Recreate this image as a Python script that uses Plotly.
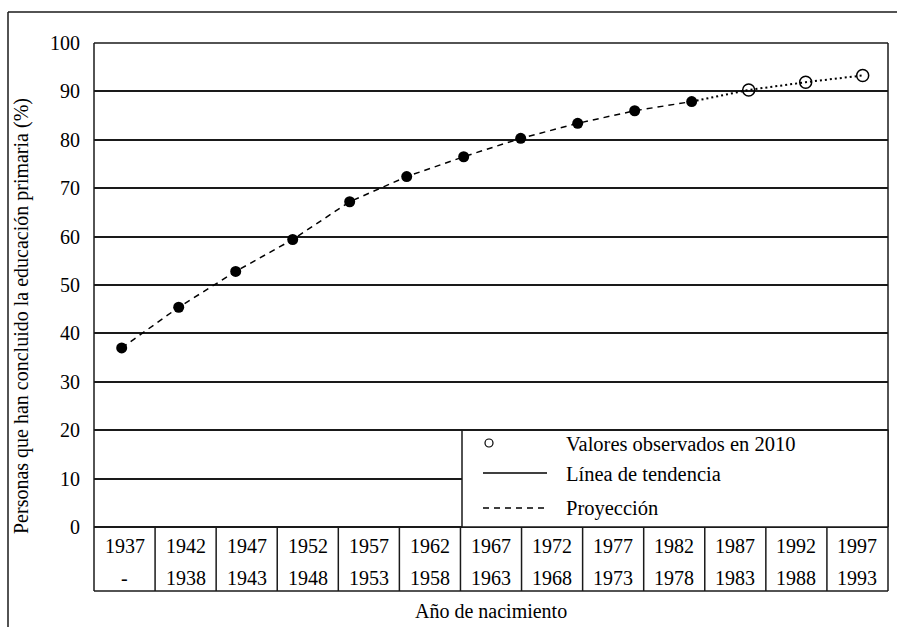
import plotly.graph_objects as go

# ---- data ----
cohort_start = ["1937", "1942", "1947", "1952", "1957", "1962", "1967",
                "1972", "1977", "1982", "1987", "1992", "1997"]
cohort_end = ["-", "1938", "1943", "1948", "1953", "1958", "1963",
              "1968", "1973", "1978", "1983", "1988", "1993"]
trend_values = [37.0, 45.4, 52.8, 59.4, 67.2, 72.4, 76.5, 80.3, 83.4, 86.0, 87.9]
projection_values = [87.9, 90.3, 91.9, 93.3]
observed_values = [90.3, 91.9, 93.3]
y_ticks = [0, 10, 20, 30, 40, 50, 60, 70, 80, 90, 100]

legend_labels = ["Valores observados en 2010", "Línea de tendencia", "Proyección"]
y_title = "Personas que han concluido la educación primaria (%)"
x_title = "Año de nacimiento"

# ---- layout geometry (pixels) ----
W, H = 897, 627
L, R, T, B = 94, 888, 43, 527
TABLE_BOTTOM = 591
FONT = "Liberation Serif"
INK = "#1a1a1a"


def px_x(p):
    return (p - L) / (R - L)


def px_y(p):
    return (B - p) / (B - T)


n_trend = len(trend_values)
x_trend = list(range(n_trend))
x_proj = list(range(n_trend - 1, n_trend - 1 + len(projection_values)))
x_obs = x_proj[1:]

fig = go.Figure()
fig.add_trace(go.Scatter(
    x=x_trend, y=trend_values, mode="lines+markers",
    line=dict(color="black", width=1.5, dash="6px,5px"),
    marker=dict(color="black", size=11, symbol="circle"),
    showlegend=False, hoverinfo="skip"))
fig.add_trace(go.Scatter(
    x=x_proj, y=projection_values, mode="lines",
    line=dict(color="black", width=2, dash="2px,3px"),
    showlegend=False, hoverinfo="skip"))
fig.add_trace(go.Scatter(
    x=x_obs, y=observed_values, mode="markers",
    marker=dict(color="black", size=12, symbol="circle-open", line=dict(width=1.5)),
    showlegend=False, hoverinfo="skip"))

fig.add_trace(go.Scatter(x=[0, len(cohort_start)], y=[None, None], xaxis="x2",
                         showlegend=False, hoverinfo="skip"))

shapes = []
line_style = dict(color=INK, width=1.5)

shapes.append(dict(type="line", xref="paper", yref="paper",
                   x0=px_x(8), x1=px_x(W), y0=px_y(12), y1=px_y(12), line=line_style))
shapes.append(dict(type="line", xref="paper", yref="paper",
                   x0=px_x(8), x1=px_x(8), y0=px_y(12), y1=px_y(H), line=line_style))

shapes.append(dict(type="line", xref="paper", yref="paper",
                   x0=0, x1=1, y0=1, y1=1, line=line_style))
shapes.append(dict(type="line", xref="paper", yref="paper",
                   x0=0, x1=0, y0=1, y1=px_y(TABLE_BOTTOM), line=line_style))
shapes.append(dict(type="line", xref="paper", yref="paper",
                   x0=1, x1=1, y0=1, y1=px_y(TABLE_BOTTOM), line=line_style))
shapes.append(dict(type="line", xref="paper", yref="paper",
                   x0=0, x1=1, y0=px_y(TABLE_BOTTOM), y1=px_y(TABLE_BOTTOM), line=line_style))

for k in range(1, len(cohort_start)):
    shapes.append(dict(type="line", xref="x2", yref="paper",
                       x0=k, x1=k, y0=0, y1=px_y(TABLE_BOTTOM), line=line_style))

shapes.append(dict(type="rect", xref="paper", yref="y", layer="above",
                   x0=px_x(462), x1=1, y0=0, y1=20,
                   fillcolor="white", line=line_style))
shapes.append(dict(type="circle", xref="paper", yref="paper", layer="above",
                   x0=px_x(485), x1=px_x(493), y0=px_y(439), y1=px_y(447),
                   line=dict(color="black", width=1.2)))
shapes.append(dict(type="line", xref="paper", yref="paper", layer="above",
                   x0=px_x(483), x1=px_x(547), y0=px_y(473), y1=px_y(473),
                   line=dict(color="black", width=1.3)))
shapes.append(dict(type="line", xref="paper", yref="paper", layer="above",
                   x0=px_x(483), x1=px_x(547), y0=px_y(508), y1=px_y(508),
                   line=dict(color="black", width=1.3, dash="6px,5px")))

annotations = []
for k, (a, b) in enumerate(zip(cohort_start, cohort_end)):
    annotations.append(dict(x=k + 0.5, y=px_y(546), xref="x2", yref="paper",
                            text=a, showarrow=False, xanchor="center", yanchor="middle",
                            font=dict(family=FONT, size=20, color="black")))
    annotations.append(dict(x=k + 0.5, y=px_y(578), xref="x2", yref="paper",
                            text=b, showarrow=False, xanchor="center", yanchor="middle",
                            font=dict(family=FONT, size=20, color="black")))

for lbl, yy in zip(legend_labels, [444, 474, 508]):
    annotations.append(dict(x=px_x(564), y=px_y(yy), xref="paper", yref="paper",
                            text=lbl, showarrow=False, xanchor="left", yanchor="middle",
                            font=dict(family=FONT, size=20.5, color="black")))

annotations.append(dict(x=px_x(21), y=px_y(316), xref="paper", yref="paper", text=y_title,
                        textangle=-90, showarrow=False, xanchor="center", yanchor="middle",
                        font=dict(family=FONT, size=20, color="black")))
annotations.append(dict(x=0.5, y=px_y(611), xref="paper", yref="paper", text=x_title,
                        showarrow=False, xanchor="center", yanchor="middle",
                        font=dict(family=FONT, size=20, color="black")))

fig.update_layout(
    width=W, height=H,
    margin=dict(l=L, r=W - R, t=T, b=H - B, pad=0),
    paper_bgcolor="white", plot_bgcolor="white",
    showlegend=False,
    xaxis=dict(range=[-0.486, 13.444], visible=False, fixedrange=True),
    xaxis2=dict(range=[0, len(cohort_start)], overlaying="x", visible=False),
    yaxis=dict(range=[0, 100], tickvals=y_ticks, ticktext=[str(v) for v in y_ticks],
               showgrid=True, gridcolor=INK, gridwidth=1.5,
               zeroline=True, zerolinecolor=INK, zerolinewidth=1.5,
               showline=False, ticks="", ticklabelstandoff=13,
               tickfont=dict(family=FONT, size=20, color="black")),
    shapes=shapes,
    annotations=annotations,
)

fig.write_html("out.html",
               config={"displayModeBar": False},
               post_script="document.body.style.margin='0';document.body.style.overflow='hidden';")
